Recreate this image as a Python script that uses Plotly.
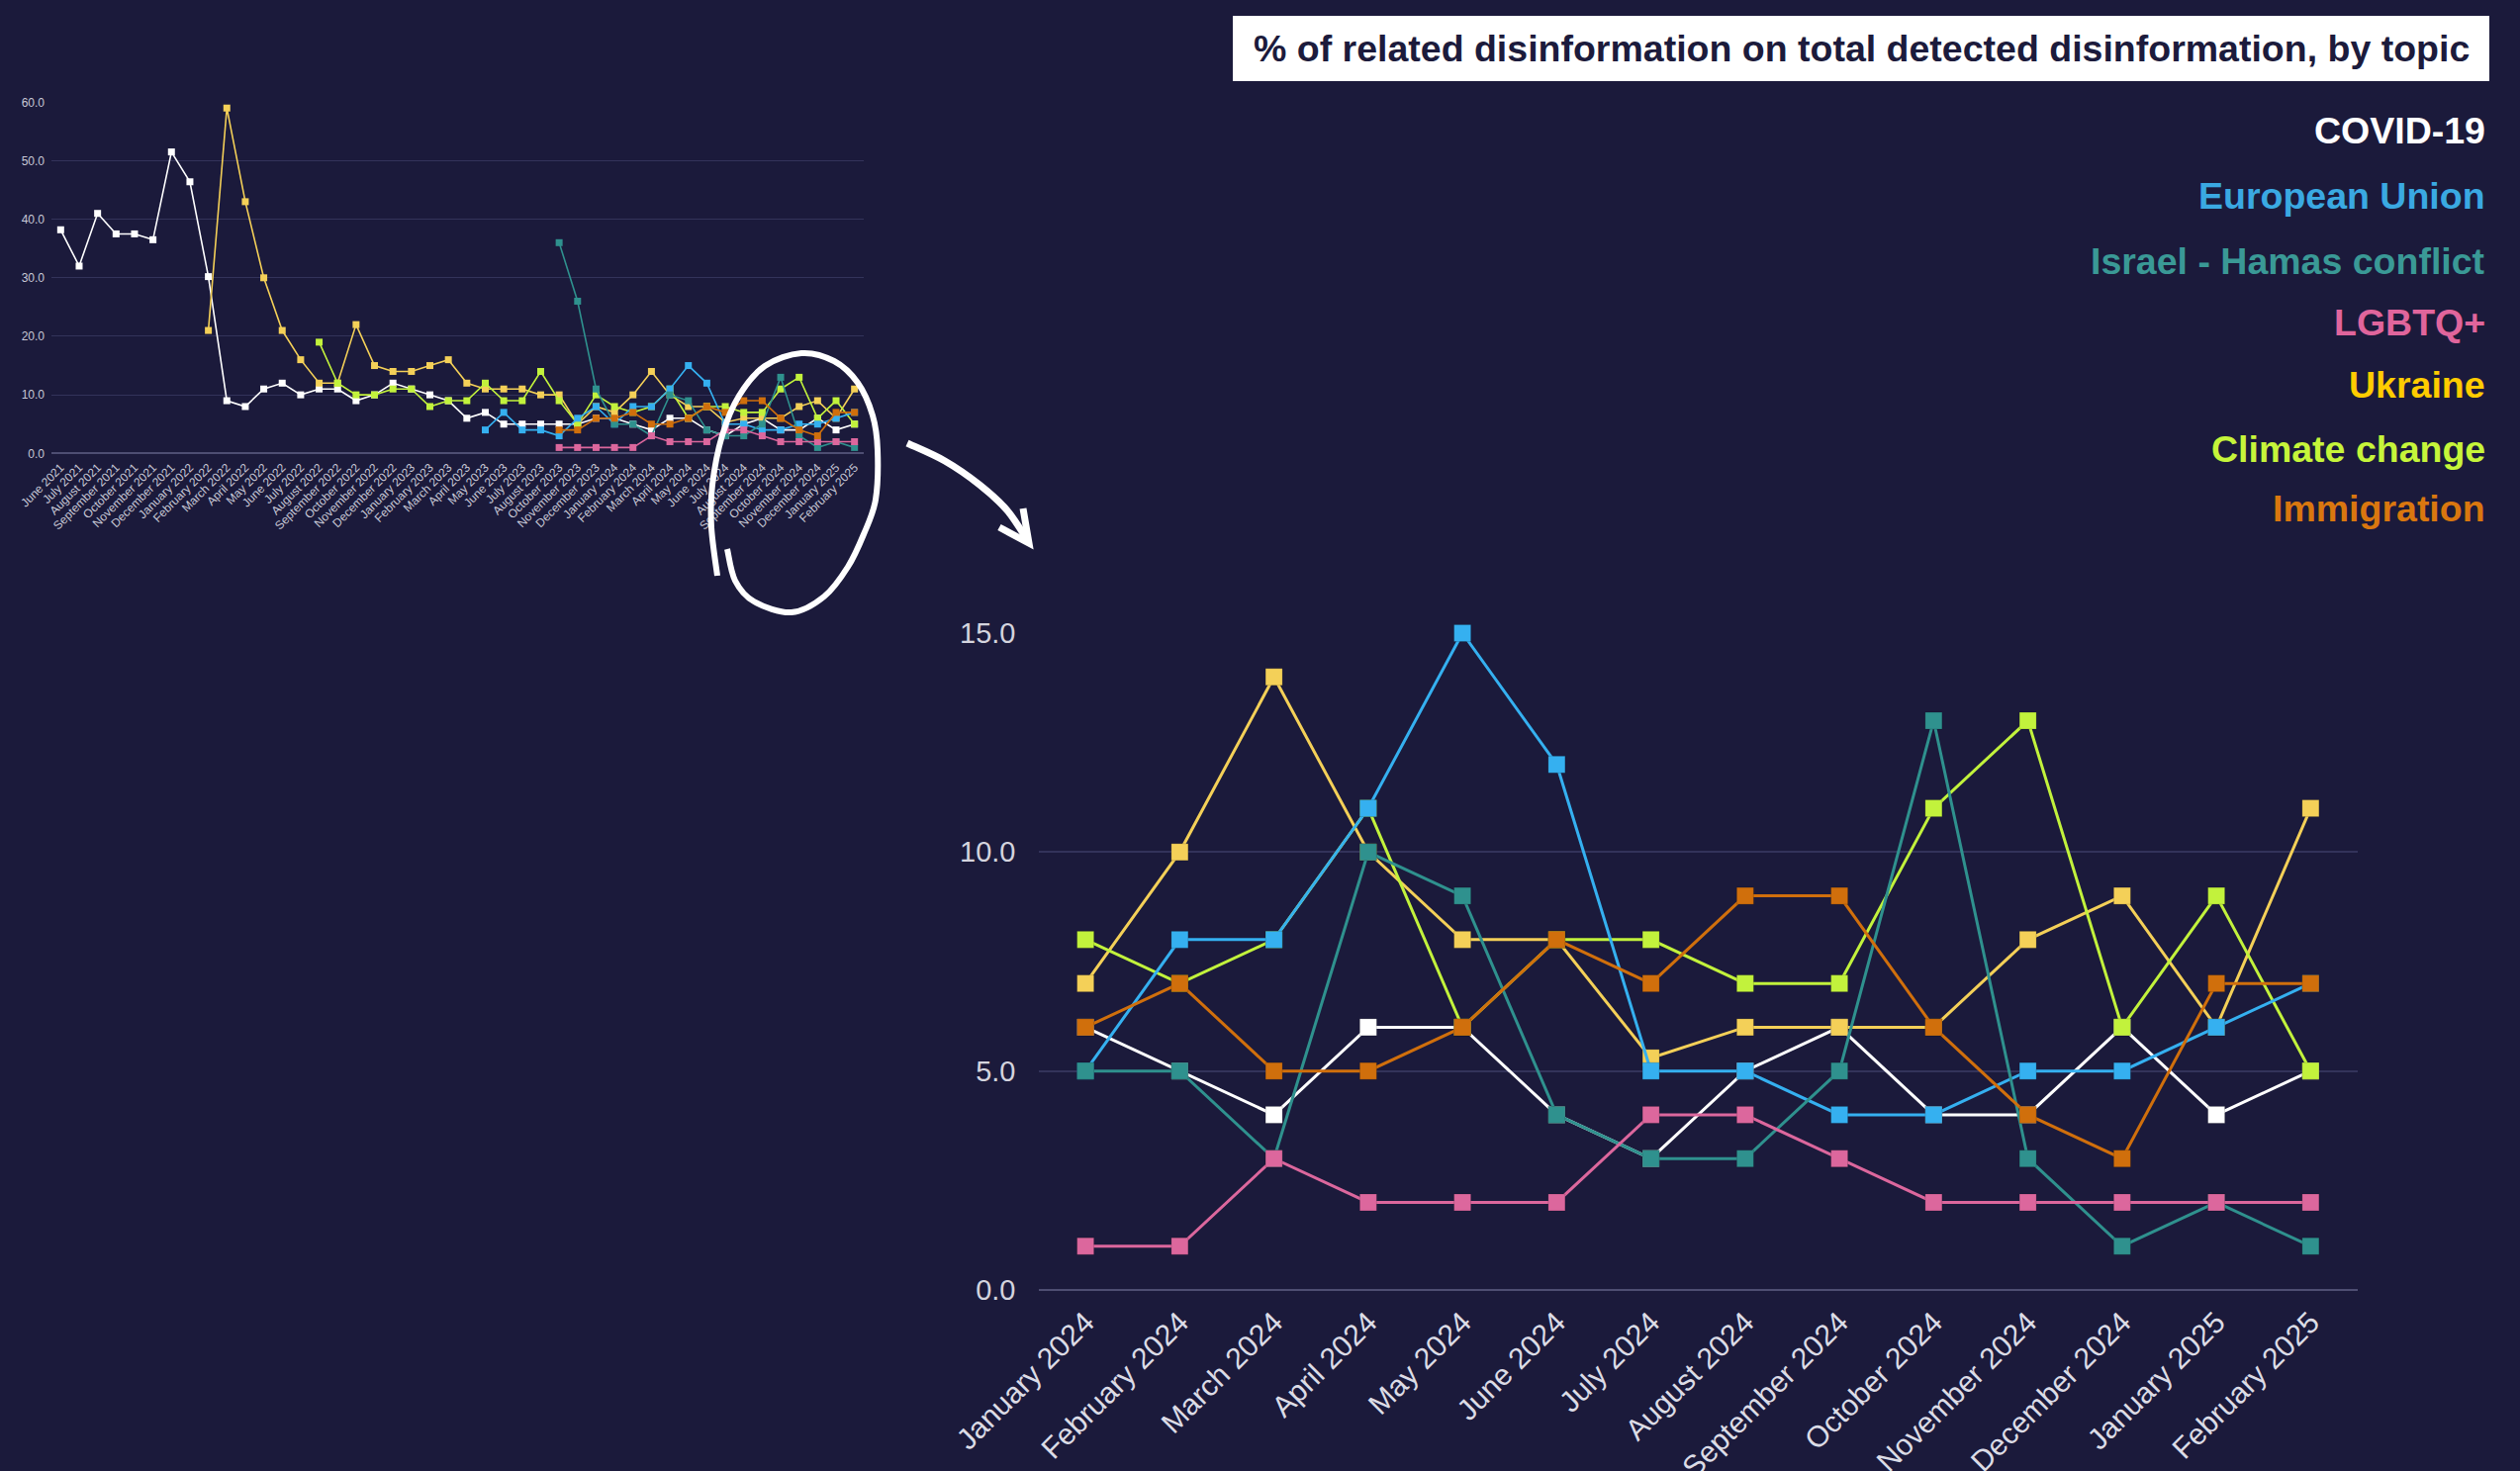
import plotly.graph_objects as go

W, H = 2547, 1487
BG = "#1b1a3b"
FONT = "Liberation Sans, Arial, Helvetica, sans-serif"

# ---------------- data ----------------
early_months = [
    "June 2021", "July 2021", "August 2021", "September 2021", "October 2021",
    "November 2021", "December 2021", "January 2022", "February 2022", "March 2022",
    "April 2022", "May 2022", "June 2022", "July 2022", "August 2022",
    "September 2022", "October 2022", "November 2022", "December 2022", "January 2023",
    "February 2023", "March 2023", "April 2023", "May 2023", "June 2023",
    "July 2023", "August 2023", "October 2023", "November 2023", "December 2023",
]
recent_months = [
    "January 2024", "February 2024", "March 2024", "April 2024", "May 2024",
    "June 2024", "July 2024", "August 2024", "September 2024", "October 2024",
    "November 2024", "December 2024", "January 2025", "February 2025",
]

covid_early = [38.2, 32, 41, 37.5, 37.5, 36.5, 51.5, 46.4, 30.2, 9, 8, 11, 12, 10, 11,
               11, 9, 10, 12, 11, 10, 9, 6, 7, 5, 5, 5, 5, 5, 6]
eu_early = [None] * 23 + [4, 7, 4, 4, 3, 6, 8]
israel_early = [None] * 27 + [36, 26, 11]
lgbtq_early = [None] * 27 + [1, 1, 1]
ukraine_early = [None] * 8 + [21, 59, 43, 30, 21, 16, 12, 12, 22, 15, 14, 14, 15, 16,
                              12, 11, 11, 11, 10, 10, 5, 8]
climate_early = [None] * 14 + [19, 12, 10, 10, 11, 11, 8, 9, 9, 12, 9, 9, 14, 9, 5, 10]
immigration_early = [None] * 27 + [4, 4, 6]

covid_recent = [6, 5, 4, 6, 6, 4, 3, 5, 6, 4, 4, 6, 4, 5]
eu_recent = [5, 8, 8, 11, 15, 12, 5, 5, 4, 4, 5, 5, 6, 7]
israel_recent = [5, 5, 3, 10, 9, 4, 3, 3, 5, 13, 3, 1, 2, 1]
lgbtq_recent = [1, 1, 3, 2, 2, 2, 4, 4, 3, 2, 2, 2, 2, 2]
ukraine_recent = [7, 10, 14, 10, 8, 8, 5.3, 6, 6, 6, 8, 9, 6, 11]
climate_recent = [8, 7, 8, 11, 6, 8, 8, 7, 7, 11, 13, 6, 9, 5]
immigration_recent = [6, 7, 5, 5, 6, 8, 7, 9, 9, 6, 4, 3, 7, 7]

legend_order = ["COVID-19", "European Union", "Israel - Hamas conflict", "LGBTQ+",
                "Ukraine", "Climate change", "Immigration"]
draw_order = ["COVID-19", "Ukraine", "Climate change", "European Union",
              "Israel - Hamas conflict", "LGBTQ+", "Immigration"]

series_early = {
    "COVID-19": covid_early, "European Union": eu_early,
    "Israel - Hamas conflict": israel_early, "LGBTQ+": lgbtq_early,
    "Ukraine": ukraine_early, "Climate change": climate_early,
    "Immigration": immigration_early,
}
series_recent = {
    "COVID-19": covid_recent, "European Union": eu_recent,
    "Israel - Hamas conflict": israel_recent, "LGBTQ+": lgbtq_recent,
    "Ukraine": ukraine_recent, "Climate change": climate_recent,
    "Immigration": immigration_recent,
}

line_colors = {
    "COVID-19": "#ffffff", "European Union": "#35b0f0",
    "Israel - Hamas conflict": "#2f918e", "LGBTQ+": "#dc679d",
    "Ukraine": "#f4d058", "Climate change": "#c2f23c", "Immigration": "#d06f0c",
}
label_colors = {
    "COVID-19": "#ffffff", "European Union": "#3aa9e2",
    "Israel - Hamas conflict": "#3a9996", "LGBTQ+": "#e0659c",
    "Ukraine": "#ffcc00", "Climate change": "#c6f53a", "Immigration": "#d9770f",
}

all_months = early_months + recent_months


def px(x, y):
    return x / W, 1 - y / H


fig = go.Figure()

# small overview chart
for name in draw_order:
    fig.add_trace(go.Scatter(
        x=all_months, y=series_early[name] + series_recent[name],
        mode="lines+markers", name=name, showlegend=False,
        line=dict(color=line_colors[name], width=1.6),
        marker=dict(symbol="square", size=7, color=line_colors[name]),
        xaxis="x", yaxis="y", cliponaxis=False,
    ))

# big detail chart
for name in draw_order:
    fig.add_trace(go.Scatter(
        x=recent_months, y=series_recent[name],
        mode="lines+markers", name=name, showlegend=False,
        line=dict(color=line_colors[name], width=3),
        marker=dict(symbol="square", size=17, color=line_colors[name],
                    line=dict(width=1, color="rgba(0,0,0,0.15)")),
        xaxis="x2", yaxis="y2", cliponaxis=False,
    ))

grid = "#33335a"
zero = "#4e4e72"

fig.update_layout(
    width=W, height=H, autosize=False,
    margin=dict(l=0, r=0, t=0, b=0, pad=0, autoexpand=False),
    paper_bgcolor=BG, plot_bgcolor=BG,
    font=dict(family=FONT, color="#d4d4de"),
    showlegend=False,
    xaxis=dict(
        domain=[52 / W, 873 / W], anchor="y", type="category",
        categoryorder="array", categoryarray=all_months,
        range=[-0.5, len(all_months) - 0.5], tickangle=-45,
        tickfont=dict(size=12, color="#c8c8d6", family=FONT),
        showgrid=False, showline=False, zeroline=False, ticks="",
        ticklabelstandoff=4, automargin=False,
    ),
    yaxis=dict(
        domain=[1 - 458.3 / H, 1 - 103.3 / H], anchor="x",
        range=[0, 60], dtick=10, tickformat=".1f",
        tickfont=dict(size=12, color="#c8c8d6", family=FONT),
        gridcolor=grid, gridwidth=1, zeroline=True, zerolinecolor=zero,
        zerolinewidth=1.5, showline=False, ticks="", ticklabelstandoff=6,
        automargin=False,
    ),
    xaxis2=dict(
        domain=[1049.5 / W, 2383 / W], anchor="y2", type="category",
        categoryorder="array", categoryarray=recent_months,
        range=[-0.5, len(recent_months) - 0.5], tickangle=-45,
        tickfont=dict(size=30, color="#dcdce6", family=FONT),
        showgrid=False, showline=False, zeroline=False, ticks="",
        ticklabelstandoff=8, automargin=False,
    ),
    yaxis2=dict(
        domain=[1 - 1304 / H, 1 - 640 / H], anchor="x2",
        range=[0, 15], dtick=5, tickformat=".1f",
        tickfont=dict(size=29, color="#d4d4de", family=FONT),
        gridcolor=grid, gridwidth=1.5, zeroline=True, zerolinecolor=zero,
        zerolinewidth=2, showline=False, ticks="", ticklabelstandoff=22,
        automargin=False,
    ),
)

# title box
x0, y0 = px(1246, 82)
x1, y1 = px(2516, 16)
fig.add_shape(type="rect", xref="paper", yref="paper", x0=x0, y0=y0, x1=x1, y1=y1,
              fillcolor="#ffffff", line=dict(width=0), layer="above")
tx, ty = px(1881, 49)
fig.add_annotation(xref="paper", yref="paper", x=tx, y=ty, xanchor="center",
                   yanchor="middle", showarrow=False,
                   text="<b>% of related disinformation on total detected disinformation, by topic</b>",
                   font=dict(size=37.5, color="#1c1b3c", family=FONT))

# text legend
legend_y = [132, 198, 264, 326, 389, 454, 514]
for name, yy in zip(legend_order, legend_y):
    lx, ly = px(2514, yy)
    fig.add_annotation(xref="paper", yref="paper", x=lx, y=ly, xanchor="right",
                       yanchor="middle", showarrow=False, text="<b>" + name + "</b>",
                       font=dict(size=37.5, color=label_colors[name], family=FONT))


# hand-drawn circle and arrow (decoration)
def smooth_path(points):
    pts = [px(a, b) for a, b in points]
    d = "M %.5f,%.5f" % pts[0]
    n = len(pts)
    for i in range(n - 1):
        p0 = pts[i - 1] if i > 0 else pts[i]
        p1 = pts[i]
        p2 = pts[i + 1]
        p3 = pts[i + 2] if i + 2 < n else pts[i + 1]
        c1 = (p1[0] + (p2[0] - p0[0]) / 6, p1[1] + (p2[1] - p0[1]) / 6)
        c2 = (p2[0] - (p3[0] - p1[0]) / 6, p2[1] - (p3[1] - p1[1]) / 6)
        d += " C %.5f,%.5f %.5f,%.5f %.5f,%.5f" % (c1 + c2 + p2)
    return d


ellipse_pts = [(725, 582), (719, 533), (720, 490), (730, 440), (747, 400), (773, 370),
               (810, 357), (843, 365), (867, 387), (882, 420), (887, 455), (885, 505),
               (873, 540), (857, 573), (833, 603), (800, 619), (762, 608), (743, 587),
               (735, 555)]
fig.add_shape(type="path", xref="paper", yref="paper", path=smooth_path(ellipse_pts),
              line=dict(color="#ffffff", width=6), layer="above")

arrow_pts = [(917, 448), (955, 466), (990, 490), (1018, 516), (1039, 547)]
fig.add_shape(type="path", xref="paper", yref="paper", path=smooth_path(arrow_pts),
              line=dict(color="#ffffff", width=7), layer="above")
head = [px(1010, 533), px(1040, 549), px(1034, 514)]
fig.add_shape(type="path", xref="paper", yref="paper",
              path="M %.5f,%.5f L %.5f,%.5f L %.5f,%.5f" % (head[0] + head[1] + head[2]),
              line=dict(color="#ffffff", width=7), layer="above")

fig.write_html("out.html", config={"displayModeBar": False},
               post_script="document.body.style.margin='0px';")
